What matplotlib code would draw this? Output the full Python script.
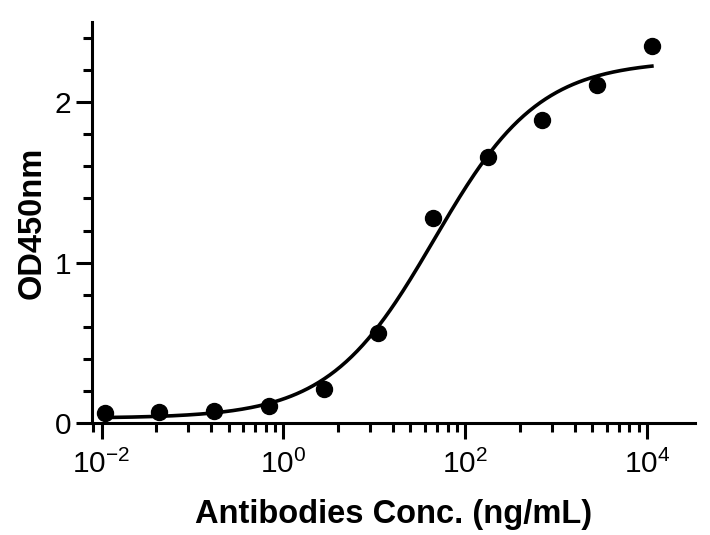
import numpy as np
import matplotlib
matplotlib.use('Agg')
import matplotlib.pyplot as plt
from matplotlib.ticker import FixedLocator, FixedFormatter

# concentrations (ng/mL) and OD450 readings, 4-fold dilution series
concentrations = [0.0108, 0.0433, 0.173, 0.693, 2.77, 11.1, 44.3, 177, 709, 2836, 11345]
odValues = [0.064, 0.07, 0.074, 0.104, 0.213, 0.563, 1.28, 1.66, 1.89, 2.11, 2.35]

# 4PL fit parameters
fitBottom = 0.03
fitTop = 2.26
fitEC50 = 45.7
fitHill = 0.75

majorTicks = [1e-2, 1e0, 1e2, 1e4]
majorLabels = [r'$\mathregular{10^{-2}}$', r'$\mathregular{10^{0}}$', r'$\mathregular{10^{2}}$', r'$\mathregular{10^{4}}$']

plt.rcParams['font.family'] = ['Liberation Sans', 'DejaVu Sans']
plt.rcParams['mathtext.fontset'] = 'custom'
plt.rcParams['mathtext.rm'] = 'Liberation Sans'


def fourPL(x):
	return fitBottom + (fitTop - fitBottom) / (1 + (fitEC50 / x) ** fitHill)


fig = plt.figure(figsize=(7.1, 5.35), dpi=100)
ax = fig.add_axes([0.129, 0.2093, 0.850, 0.7496])

xFit = np.logspace(np.log10(concentrations[0]), np.log10(concentrations[-1]), 300)
ax.plot(xFit, fourPL(xFit), color='black', linewidth=2.6, zorder=2)
ax.plot(concentrations, odValues, 'o', color='black', markersize=11.5, zorder=3, clip_on=False)

ax.set_xscale('log')
ax.set_xlim(0.00776, 33900)
ax.set_ylim(0, 2.5)

# prism style minor ticks: k^2 within each two-decade step
minorTicks = [0.0081]
for n in (-2, 0, 2):
	for k in range(2, 10):
		minorTicks.append(k * k * 10.0 ** n)
ax.xaxis.set_major_locator(FixedLocator(majorTicks))
ax.xaxis.set_major_formatter(FixedFormatter(majorLabels))
ax.xaxis.set_minor_locator(FixedLocator(minorTicks))
ax.xaxis.set_minor_formatter(FixedFormatter([]))

ax.set_yticks([0, 1, 2])
ax.set_yticklabels(['0', '1', '2'])
ax.set_yticks([0.2, 0.4, 0.6, 0.8, 1.2, 1.4, 1.6, 1.8, 2.2, 2.4], minor=True)

for side in ['top', 'right']:
	ax.spines[side].set_visible(False)
for side in ['left', 'bottom']:
	ax.spines[side].set_linewidth(2.2)

ax.tick_params(which='major', length=11.5, width=2.2, labelsize=21.5)
ax.tick_params(axis='y', which='major', pad=3)
ax.tick_params(axis='x', which='major', pad=8)
ax.tick_params(which='minor', length=6.5, width=2.2)

ax.set_xlabel('Antibodies Conc. (ng/mL)', fontsize=23.5, fontweight='bold', labelpad=14)
ax.set_ylabel('OD450nm', fontsize=23.5, fontweight='bold', labelpad=5)

plt.savefig('out.png', dpi=100)
